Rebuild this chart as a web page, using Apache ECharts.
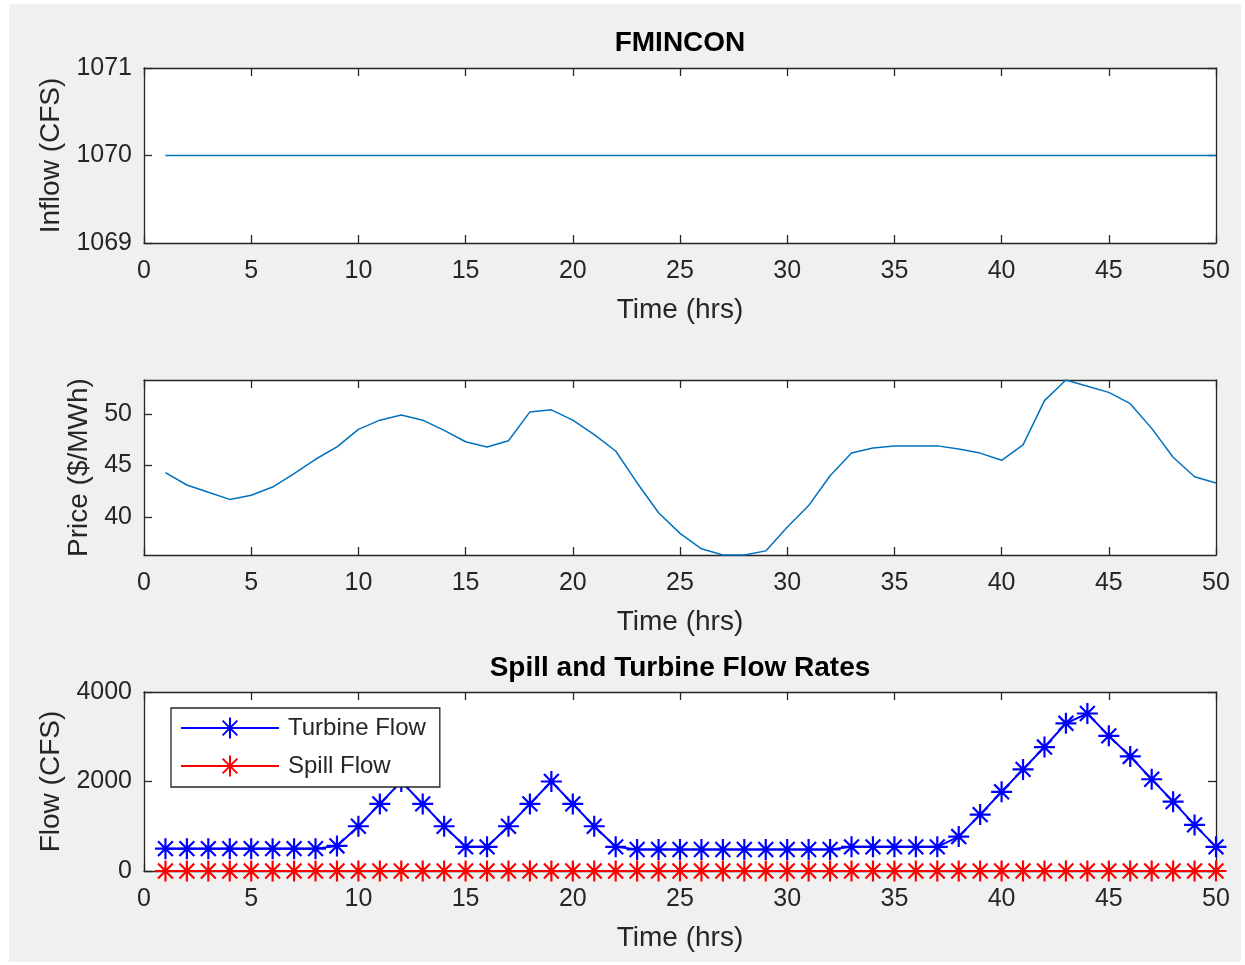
<!DOCTYPE html>
<html>
<head>
<meta charset="utf-8">
<script src="https://cdn.jsdelivr.net/npm/echarts@6/dist/echarts.min.js"></script>
<style>
html,body{margin:0;padding:0;background:#ffffff;width:1245px;height:965px;overflow:hidden;}
#chart{position:absolute;left:9px;top:4px;width:1232px;height:958px;}
</style>
</head>
<body>
<div id="chart"></div>
<script>
// ---- data ----
var hours = [1,2,3,4,5,6,7,8,9,10,11,12,13,14,15,16,17,18,19,20,21,22,23,24,25,26,27,28,29,30,31,32,33,34,35,36,37,38,39,40,41,42,43,44,45,46,47,48,49,50];
var inflow = [1070,1070,1070,1070,1070,1070,1070,1070,1070,1070,1070,1070,1070,1070,1070,1070,1070,1070,1070,1070,1070,1070,1070,1070,1070,1070,1070,1070,1070,1070,1070,1070,1070,1070,1070,1070,1070,1070,1070,1070,1070,1070,1070,1070,1070,1070,1070,1070,1070,1070];
var price = [44.3,43.1,42.4,41.7,42.1,42.9,44.2,45.6,46.8,48.5,49.4,49.9,49.4,48.4,47.3,46.8,47.4,50.2,50.4,49.4,48.0,46.4,43.3,40.4,38.4,36.9,36.3,36.3,36.7,39.0,41.1,44.0,46.2,46.7,46.9,46.9,46.9,46.6,46.2,45.5,47.0,51.3,53.3,52.7,52.1,51.0,48.6,45.8,43.9,43.3];
var turbineFlow = [500,500,500,500,500,500,500,500,560,1000,1500,2000,1500,1000,540,540,1000,1500,2000,1500,1000,540,480,480,480,480,480,480,480,480,480,480,540,540,540,540,540,770,1260,1770,2270,2770,3300,3520,3020,2560,2050,1550,1030,540];
var spillFlow = [0,0,0,0,0,0,0,0,0,0,0,0,0,0,0,0,0,0,0,0,0,0,0,0,0,0,0,0,0,0,0,0,0,0,0,0,0,0,0,0,0,0,0,0,0,0,0,0,0,0];
var xTicks = {min: 0, max: 50, interval: 5};
var inflowTicks = [1069, 1070, 1071];
var priceTicks = [40, 45, 50];
var flowTicks = [0, 2000, 4000];
var seriesNames = ['Turbine Flow', 'Spill Flow'];
var titles = ['FMINCON', 'Spill and Turbine Flow Rates'];
var xName = 'Time (hrs)';
var yNames = ['Inflow (CFS)', 'Price ($/MWh)', 'Flow (CFS)'];

// ---- build ----
var FONT = '"Liberation Sans", Arial, Helvetica, sans-serif';
var AX = '#262626';
var STAR = 'path://M0,-1L0,1M-1,0L1,0M-0.707,-0.707L0.707,0.707M-0.707,0.707L0.707,-0.707';

function pair(arrX, arrY){ return arrX.map(function(x,i){ return [x, arrY[i]]; }); }
function plain(v){ return String(v); }

var grids = [
  {left: 135, top: 64, width: 1072, height: 175},
  {left: 135, top: 376, width: 1072, height: 175},
  {left: 135, top: 688, width: 1072, height: 179}
];

var xAxes = [], yAxes = [];
var yNameGaps = [74, 50, 74];
var yCfg = [
  {min: 1069, max: 1071, ticks: inflowTicks},
  {min: 'dataMin', max: 'dataMax', ticks: priceTicks},
  {min: 0, max: 4000, ticks: flowTicks}
];
var lineW = 1.3;
for (var g = 0; g < 3; g++) {
  xAxes.push({
    type: 'value', gridIndex: g, position: 'bottom',
    min: xTicks.min, max: xTicks.max, interval: xTicks.interval,
    name: xName, nameLocation: 'middle', nameGap: 53,
    nameTextStyle: {fontFamily: FONT, fontSize: 28, color: AX},
    axisLine: {show: true, onZero: false, lineStyle: {color: AX, width: lineW}},
    axisTick: {show: true, inside: true, length: 8, lineStyle: {color: AX, width: lineW}},
    axisLabel: {show: true, margin: 16, fontFamily: FONT, fontSize: 25, color: AX, formatter: plain},
    splitLine: {show: false}
  });
  xAxes.push({
    type: 'value', gridIndex: g, position: 'top',
    min: xTicks.min, max: xTicks.max, interval: xTicks.interval,
    axisLine: {show: true, onZero: false, lineStyle: {color: AX, width: lineW}},
    axisTick: {show: true, inside: true, length: 8, lineStyle: {color: AX, width: lineW}},
    axisLabel: {show: false},
    splitLine: {show: false}
  });
  var c = yCfg[g];
  yAxes.push({
    type: 'value', gridIndex: g, position: 'left',
    min: c.min, max: c.max,
    name: yNames[g], nameLocation: 'middle', nameGap: yNameGaps[g], nameRotate: 90,
    nameTextStyle: {fontFamily: FONT, fontSize: 28, color: AX},
    axisLine: {show: true, onZero: false, lineStyle: {color: AX, width: lineW}},
    axisTick: {show: true, inside: true, length: 8, customValues: c.ticks, lineStyle: {color: AX, width: lineW}},
    axisLabel: {show: true, margin: 12, customValues: c.ticks, fontFamily: FONT, fontSize: 25, color: AX, formatter: plain},
    splitLine: {show: false}
  });
  yAxes.push({
    type: 'value', gridIndex: g, position: 'right',
    min: c.min, max: c.max,
    axisLine: {show: true, onZero: false, lineStyle: {color: AX, width: lineW}},
    axisTick: {show: true, inside: true, length: 8, customValues: c.ticks, lineStyle: {color: AX, width: lineW}},
    axisLabel: {show: false, customValues: c.ticks},
    splitLine: {show: false}
  });
}

var cx = 135 + 1072 / 2;

var option = {
  animation: false,
  backgroundColor: '#f0f0f0',
  textStyle: {fontFamily: FONT},
  grid: grids.map(function(gr){ return Object.assign({show: true, backgroundColor: '#ffffff', borderWidth: 0}, gr); }),
  xAxis: xAxes,
  yAxis: yAxes,
  legend: {
    data: seriesNames,
    orient: 'vertical',
    left: 162, top: 704,
    z: 10,
    backgroundColor: '#ffffff',
    borderColor: AX, borderWidth: 1.3, borderRadius: 0,
    padding: [8, 14, 9, 9],
    itemWidth: 98, itemHeight: 26, itemGap: 14,
    textStyle: {fontFamily: FONT, fontSize: 24, color: AX, padding: [0, 0, 0, 4]}
  },
  graphic: [
    {type: 'text', x: cx, y: 39, style: {text: titles[0], font: 'bold 28px ' + FONT, fill: '#000', align: 'center', verticalAlign: 'middle'}},
    {type: 'text', x: cx, y: 664, style: {text: titles[1], font: 'bold 28px ' + FONT, fill: '#000', align: 'center', verticalAlign: 'middle'}}
  ],
  series: [
    {type: 'line', name: 'Inflow', xAxisIndex: 0, yAxisIndex: 0, data: pair(hours, inflow),
     showSymbol: false, symbol: 'none', clip: false, lineStyle: {color: '#0072BD', width: 1.5}},
    {type: 'line', name: 'Price', xAxisIndex: 2, yAxisIndex: 2, data: pair(hours, price),
     showSymbol: false, symbol: 'none', clip: false, lineStyle: {color: '#0072BD', width: 1.5}},
    {type: 'line', name: seriesNames[0], xAxisIndex: 4, yAxisIndex: 4, data: pair(hours, turbineFlow),
     symbol: STAR, symbolSize: 21, showAllSymbol: true, clip: false, z: 3,
     lineStyle: {color: '#0000FF', width: 2},
     itemStyle: {color: '#0000FF', borderColor: '#0000FF', borderWidth: 2.2}},
    {type: 'line', name: seriesNames[1], xAxisIndex: 4, yAxisIndex: 4, data: pair(hours, spillFlow),
     symbol: STAR, symbolSize: 21, showAllSymbol: true, clip: false, z: 3,
     lineStyle: {color: '#FF0000', width: 2},
     itemStyle: {color: '#FF0000', borderColor: '#FF0000', borderWidth: 2.2}}
  ]
};

var chart = echarts.init(document.getElementById('chart'), null, {renderer: 'canvas'});
chart.setOption(option);
</script>
</body>
</html>
